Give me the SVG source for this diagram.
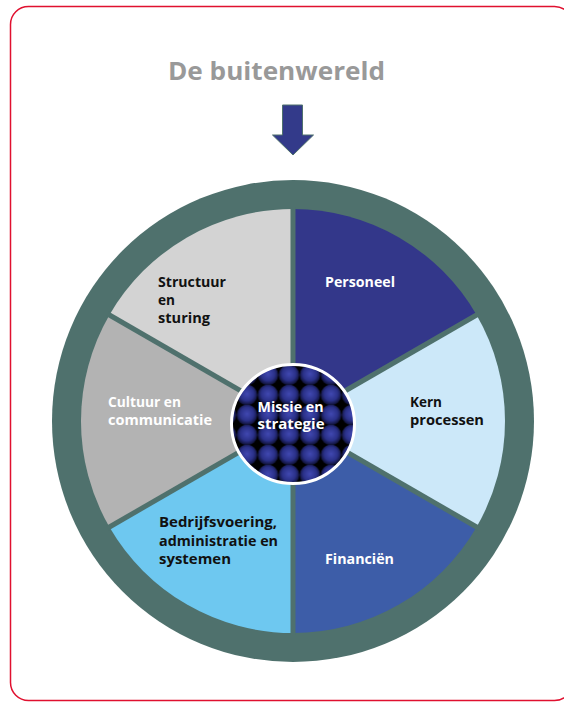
<svg xmlns="http://www.w3.org/2000/svg" width="564" height="702" viewBox="0 0 564 702">
  <defs>
    <radialGradient id="ballGrad" cx="0.5" cy="0.45" r="0.55">
      <stop offset="0" stop-color="#4048b0"/>
      <stop offset="0.6" stop-color="#2a3088"/>
      <stop offset="1" stop-color="#0c0e2e"/>
    </radialGradient>
    <pattern id="balls" patternUnits="userSpaceOnUse" x="257.5" y="365" width="21" height="20">
      <rect width="21" height="20" fill="#000"/>
      <circle cx="10.5" cy="10" r="10.3" fill="url(#ballGrad)"/>
    </pattern>
    <style>
      .lbl { font-family: "Open Sans", "Noto Sans", "Liberation Sans", sans-serif; font-weight: 700; font-size: 14px; }
      .w { fill: #ffffff; }
      .k { fill: #111111; }
      .div { stroke: #4f716d; stroke-width: 5; fill: none; }
    </style>
  </defs>

  <rect id="frame" x="10.5" y="6.5" width="562" height="694" rx="18" ry="18" fill="#ffffff" stroke="#e0102f" stroke-width="1.5"/>

  <g id="title">
    <text x="168" y="80" textLength="217" lengthAdjust="spacingAndGlyphs" style="font-family: 'Open Sans', 'Noto Sans', 'Liberation Sans', sans-serif; font-weight: 700; font-size: 25px; fill: #999999;">De buitenwereld</text>
  </g>

  <g id="arrow">
    <path d="M282.5,105 L302.5,105 L302.5,135 L313.5,135 L293,155 L272.5,135 L282.5,135 Z" fill="#333a8a" stroke="#4f716d" stroke-width="1"/>
  </g>

  <g id="ring">
    <circle cx="293" cy="421" r="241" fill="#4f716d"/>
  </g>

  <g id="personeel">
    <path d="M293,421 L293,209 A212,212 0 0 1 476.6,315 Z" fill="#33378a"/>
    <text class="lbl w" x="325" y="287" textLength="70" lengthAdjust="spacingAndGlyphs">Personeel</text>
  </g>
  <g id="kernprocessen">
    <path d="M293,421 L476.6,315 A212,212 0 0 1 476.6,527 Z" fill="#cce8f9"/>
    <text class="lbl k" x="410" y="407" textLength="32" lengthAdjust="spacingAndGlyphs">Kern</text>
    <text class="lbl k" x="410" y="425" textLength="74" lengthAdjust="spacingAndGlyphs">processen</text>
  </g>
  <g id="financien">
    <path d="M293,421 L476.6,527 A212,212 0 0 1 293,633 Z" fill="#3d5da8"/>
    <text class="lbl w" x="325" y="564" textLength="69" lengthAdjust="spacingAndGlyphs">Financiën</text>
  </g>
  <g id="bedrijfsvoering">
    <path d="M293,421 L293,633 A212,212 0 0 1 109.4,527 Z" fill="#6ec8f0"/>
    <text class="lbl k" x="159" y="527" textLength="118" lengthAdjust="spacingAndGlyphs">Bedrijfsvoering,</text>
    <text class="lbl k" x="159" y="546" textLength="119" lengthAdjust="spacingAndGlyphs">administratie en</text>
    <text class="lbl k" x="159" y="564" textLength="72" lengthAdjust="spacingAndGlyphs">systemen</text>
  </g>
  <g id="cultuur">
    <path d="M293,421 L109.4,527 A212,212 0 0 1 109.4,315 Z" fill="#b3b3b3"/>
    <text class="lbl w" x="108" y="406.5" textLength="73" lengthAdjust="spacingAndGlyphs">Cultuur en</text>
    <text class="lbl w" x="108" y="424.5" textLength="104" lengthAdjust="spacingAndGlyphs">communicatie</text>
  </g>
  <g id="structuur">
    <path d="M293,421 L109.4,315 A212,212 0 0 1 293,209 Z" fill="#d3d3d3"/>
    <text class="lbl k" x="158" y="287" textLength="68" lengthAdjust="spacingAndGlyphs">Structuur</text>
    <text class="lbl k" x="158" y="305" textLength="17" lengthAdjust="spacingAndGlyphs">en</text>
    <text class="lbl k" x="158" y="323" textLength="52" lengthAdjust="spacingAndGlyphs">sturing</text>
  </g>

  <g id="connectors">
    <line class="div" x1="293" y1="421" x2="293" y2="207"/>
    <line class="div" x1="293" y1="421" x2="293" y2="635"/>
    <line class="div" x1="293" y1="421" x2="478.3" y2="314"/>
    <line class="div" x1="293" y1="421" x2="478.3" y2="528"/>
    <line class="div" x1="293" y1="421" x2="107.7" y2="314"/>
    <line class="div" x1="293" y1="421" x2="107.7" y2="528"/>
  </g>

  <g id="missie">
    <ellipse cx="293" cy="424" rx="61.5" ry="59.5" fill="url(#balls)" stroke="#ffffff" stroke-width="3"/>
    <text class="lbl w" x="257.5" y="411.5" textLength="66" lengthAdjust="spacingAndGlyphs">Missie en</text>
    <text class="lbl w" x="257.5" y="429" textLength="67" lengthAdjust="spacingAndGlyphs">strategie</text>
  </g>
</svg>
